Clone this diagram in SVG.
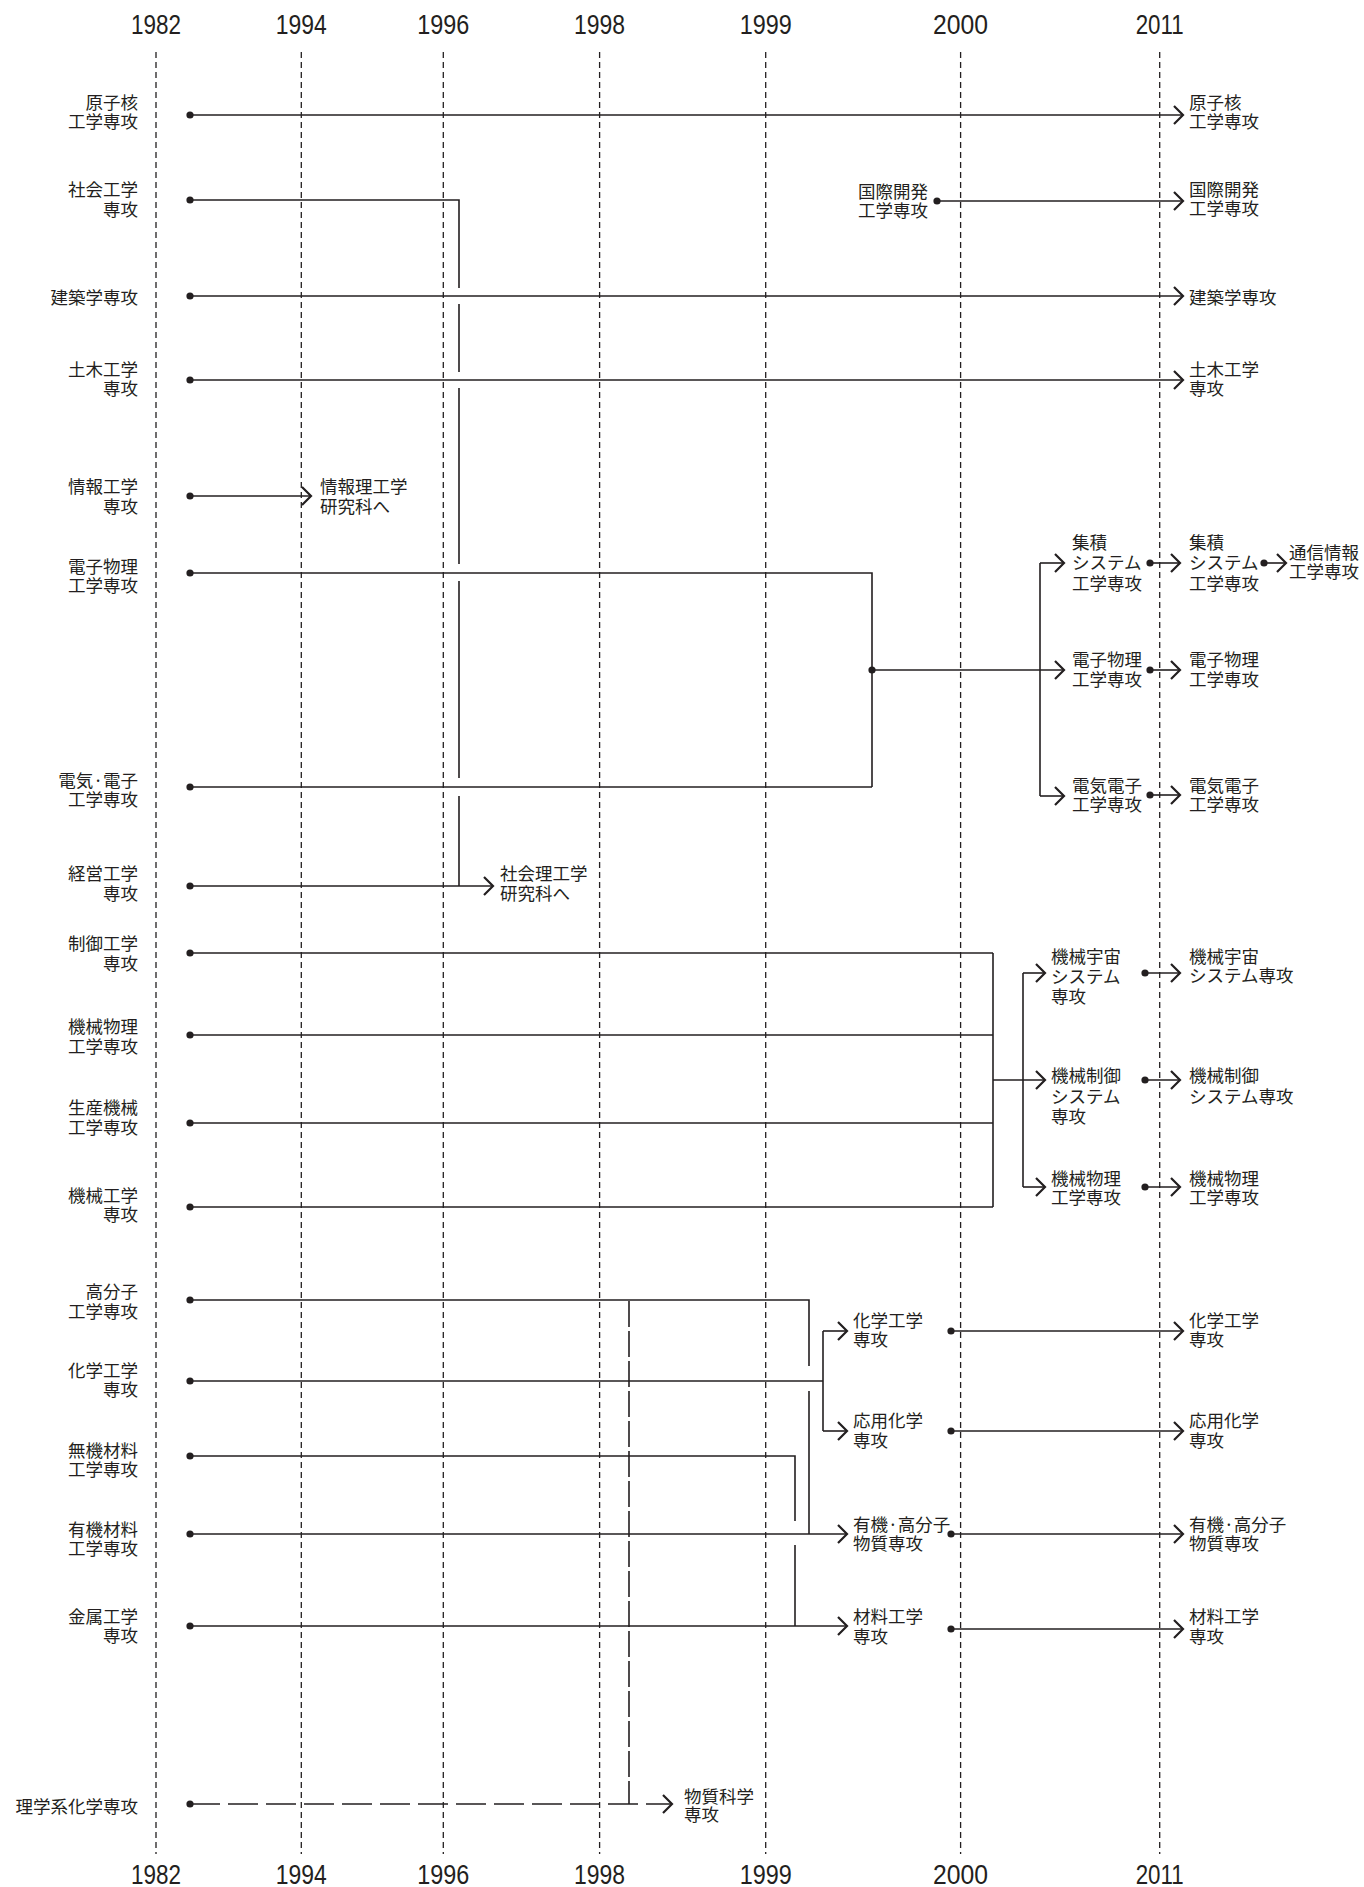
<svg xmlns="http://www.w3.org/2000/svg" width="1364" height="1887" viewBox="0 0 1364 1887">
<style>
.bg{fill:#ffffff}
.grid{stroke:#231f20;stroke-width:1.3;stroke-dasharray:6,4;fill:none}
.yr{font-family:"Liberation Sans",Arial,sans-serif;font-size:28px;fill:#231f20;text-anchor:middle}
.lb{font-family:"Noto Sans CJK JP","Noto Sans",sans-serif;font-size:17.5px;fill:#231f20}
.end{text-anchor:end}
.ln{stroke:#231f20;stroke-width:1.6;fill:none}
.dash{stroke-dasharray:30,8}
.ldash{stroke-dasharray:26,4}
.dot{fill:#231f20}
</style>
<defs>
<marker id="arr" viewBox="0 0 12 20" refX="10.5" refY="10" markerWidth="12" markerHeight="20" markerUnits="userSpaceOnUse" orient="auto">
<path d="M1.5,1 L10.5,10 L1.5,19" fill="none" stroke="#231f20" stroke-width="2.2"/>
</marker>
<marker id="dt" viewBox="0 0 8 8" refX="4" refY="4" markerWidth="8" markerHeight="8" markerUnits="userSpaceOnUse" orient="auto">
<circle cx="4" cy="4" r="3.6" fill="#231f20"/>
</marker>
</defs>
<rect class="bg" x="0" y="0" width="1364" height="1887"/>

<g id="years">
<line class="grid" x1="156" y1="52" x2="156" y2="1854"/>
<line class="grid" x1="301.3" y1="52" x2="301.3" y2="1854"/>
<line class="grid" x1="443.3" y1="52" x2="443.3" y2="1854"/>
<line class="grid" x1="599.6" y1="52" x2="599.6" y2="1854"/>
<line class="grid" x1="765.7" y1="52" x2="765.7" y2="1854"/>
<line class="grid" x1="960.6" y1="52" x2="960.6" y2="1854"/>
<line class="grid" x1="1159.7" y1="52" x2="1159.7" y2="1854"/>
<text class="yr" x="156" y="33.5" textLength="50" lengthAdjust="spacingAndGlyphs">1982</text>
<text class="yr" x="301.3" y="33.5" textLength="51" lengthAdjust="spacingAndGlyphs">1994</text>
<text class="yr" x="443.3" y="33.5" textLength="52" lengthAdjust="spacingAndGlyphs">1996</text>
<text class="yr" x="599.6" y="33.5" textLength="51" lengthAdjust="spacingAndGlyphs">1998</text>
<text class="yr" x="765.7" y="33.5" textLength="52" lengthAdjust="spacingAndGlyphs">1999</text>
<text class="yr" x="960.6" y="33.5" textLength="55" lengthAdjust="spacingAndGlyphs">2000</text>
<text class="yr" x="1159.7" y="33.5" textLength="48" lengthAdjust="spacingAndGlyphs">2011</text>
<text class="yr" x="156" y="1884" textLength="50" lengthAdjust="spacingAndGlyphs">1982</text>
<text class="yr" x="301.3" y="1884" textLength="51" lengthAdjust="spacingAndGlyphs">1994</text>
<text class="yr" x="443.3" y="1884" textLength="52" lengthAdjust="spacingAndGlyphs">1996</text>
<text class="yr" x="599.6" y="1884" textLength="51" lengthAdjust="spacingAndGlyphs">1998</text>
<text class="yr" x="765.7" y="1884" textLength="52" lengthAdjust="spacingAndGlyphs">1999</text>
<text class="yr" x="960.6" y="1884" textLength="55" lengthAdjust="spacingAndGlyphs">2000</text>
<text class="yr" x="1159.7" y="1884" textLength="48" lengthAdjust="spacingAndGlyphs">2011</text>
</g>

<g id="connectors">
<path class="ln" d="M190,115 H1183" marker-start="url(#dt)" marker-end="url(#arr)"/>
<path class="ln" d="M190,200 H459 V288" marker-start="url(#dt)"/>
<path class="ln" d="M459,304 V372 M459,388 V564 M459,581 V778 M459,796 V886"/>
<path class="ln" d="M190,886 H493" marker-start="url(#dt)" marker-end="url(#arr)"/>
<path class="ln" d="M937,201 H1183" marker-start="url(#dt)" marker-end="url(#arr)"/>
<path class="ln" d="M190,296 H1183" marker-start="url(#dt)" marker-end="url(#arr)"/>
<path class="ln" d="M190,380 H1183" marker-start="url(#dt)" marker-end="url(#arr)"/>
<path class="ln" d="M190,496 H311" marker-start="url(#dt)" marker-end="url(#arr)"/>

<path class="ln" d="M190,573 H872 V787" marker-start="url(#dt)"/>
<path class="ln" d="M190,787 H872" marker-start="url(#dt)"/>
<circle class="dot" cx="872" cy="670" r="3.6"/>
<path class="ln" d="M872,670 H1064" marker-end="url(#arr)"/>
<path class="ln" d="M1040,563 V796"/>
<path class="ln" d="M1040,563 H1064" marker-end="url(#arr)"/>
<path class="ln" d="M1040,796 H1064" marker-end="url(#arr)"/>
<path class="ln" d="M1150,563 H1180" marker-start="url(#dt)" marker-end="url(#arr)"/>
<path class="ln" d="M1150,670 H1180" marker-start="url(#dt)" marker-end="url(#arr)"/>
<path class="ln" d="M1150,795 H1180" marker-start="url(#dt)" marker-end="url(#arr)"/>
<path class="ln" d="M1264,563 H1286" marker-start="url(#dt)" marker-end="url(#arr)"/>

<path class="ln" d="M190,953 H993" marker-start="url(#dt)"/>
<path class="ln" d="M190,1035 H993" marker-start="url(#dt)"/>
<path class="ln" d="M190,1123 H993" marker-start="url(#dt)"/>
<path class="ln" d="M190,1207 H993" marker-start="url(#dt)"/>
<path class="ln" d="M993,953 V1207"/>
<path class="ln" d="M993,1080 H1045" marker-end="url(#arr)"/>
<path class="ln" d="M1023,973 V1187"/>
<path class="ln" d="M1023,973 H1045" marker-end="url(#arr)"/>
<path class="ln" d="M1023,1187 H1045" marker-end="url(#arr)"/>
<path class="ln" d="M1145,973 H1180" marker-start="url(#dt)" marker-end="url(#arr)"/>
<path class="ln" d="M1145,1080 H1180" marker-start="url(#dt)" marker-end="url(#arr)"/>
<path class="ln" d="M1145,1187 H1180" marker-start="url(#dt)" marker-end="url(#arr)"/>

<path class="ln" d="M190,1300 H809 V1366" marker-start="url(#dt)"/>
<path class="ln" d="M809,1391 V1534"/>
<path class="ln" d="M190,1381 H823" marker-start="url(#dt)"/>
<path class="ln" d="M823,1331 V1431"/>
<path class="ln" d="M823,1331 H847" marker-end="url(#arr)"/>
<path class="ln" d="M823,1431 H847" marker-end="url(#arr)"/>
<path class="ln" d="M190,1456 H795 V1521" marker-start="url(#dt)"/>
<path class="ln" d="M795,1545 V1626"/>
<path class="ln" d="M190,1534 H847" marker-start="url(#dt)" marker-end="url(#arr)"/>
<path class="ln" d="M190,1626 H847" marker-start="url(#dt)" marker-end="url(#arr)"/>
<path class="ln" d="M951,1331 H1183" marker-start="url(#dt)" marker-end="url(#arr)"/>
<path class="ln" d="M951,1431 H1183" marker-start="url(#dt)" marker-end="url(#arr)"/>
<path class="ln" d="M951,1534 H1183" marker-start="url(#dt)" marker-end="url(#arr)"/>
<path class="ln" d="M951,1629 H1183" marker-start="url(#dt)" marker-end="url(#arr)"/>

<path class="ln ldash" d="M629,1301 V1804"/>
<path class="ln dash" d="M190,1804 H672" marker-start="url(#dt)" marker-end="url(#arr)"/>
</g>

<g id="n-genshikaku"><text class="lb end"><tspan x="138" y="109">原子核</tspan><tspan x="138" y="128">工学専攻</tspan></text></g>
<g id="n-shakai"><text class="lb end"><tspan x="138" y="195.5">社会工学</tspan><tspan x="138" y="215.5">専攻</tspan></text></g>
<g id="n-kenchiku"><text class="lb end" x="138" y="304">建築学専攻</text></g>
<g id="n-doboku"><text class="lb end"><tspan x="138" y="376">土木工学</tspan><tspan x="138" y="395">専攻</tspan></text></g>
<g id="n-joho"><text class="lb end"><tspan x="138" y="493">情報工学</tspan><tspan x="138" y="512.5">専攻</tspan></text></g>
<g id="n-denshibutsuri"><text class="lb end"><tspan x="138" y="573">電子物理</tspan><tspan x="138" y="592">工学専攻</tspan></text></g>
<g id="n-denkidenshi"><text class="lb end"><tspan x="138" y="786.5">電気·電子</tspan><tspan x="138" y="805.5">工学専攻</tspan></text></g>
<g id="n-keiei"><text class="lb end"><tspan x="138" y="880">経営工学</tspan><tspan x="138" y="900">専攻</tspan></text></g>
<g id="n-seigyo"><text class="lb end"><tspan x="138" y="950">制御工学</tspan><tspan x="138" y="970">専攻</tspan></text></g>
<g id="n-kikaibutsuri"><text class="lb end"><tspan x="138" y="1033">機械物理</tspan><tspan x="138" y="1053">工学専攻</tspan></text></g>
<g id="n-seisan"><text class="lb end"><tspan x="138" y="1114">生産機械</tspan><tspan x="138" y="1134">工学専攻</tspan></text></g>
<g id="n-kikai"><text class="lb end"><tspan x="138" y="1201.5">機械工学</tspan><tspan x="138" y="1221">専攻</tspan></text></g>
<g id="n-kobunshi"><text class="lb end"><tspan x="138" y="1298">高分子</tspan><tspan x="138" y="1317.5">工学専攻</tspan></text></g>
<g id="n-kagaku"><text class="lb end"><tspan x="138" y="1376.5">化学工学</tspan><tspan x="138" y="1396">専攻</tspan></text></g>
<g id="n-muki"><text class="lb end"><tspan x="138" y="1456.5">無機材料</tspan><tspan x="138" y="1475.5">工学専攻</tspan></text></g>
<g id="n-yuki"><text class="lb end"><tspan x="138" y="1536">有機材料</tspan><tspan x="138" y="1555">工学専攻</tspan></text></g>
<g id="n-kinzoku"><text class="lb end"><tspan x="138" y="1622.5">金属工学</tspan><tspan x="138" y="1641.5">専攻</tspan></text></g>
<g id="n-rigaku"><text class="lb end" x="138" y="1812.5">理学系化学専攻</text></g>

<g id="n-kokusai2000"><text class="lb end"><tspan x="928" y="197.5">国際開発</tspan><tspan x="928" y="217">工学専攻</tspan></text></g>
<g id="n-joho-ri"><text class="lb"><tspan x="320" y="493">情報理工学</tspan><tspan x="320" y="512.5">研究科へ</tspan></text></g>
<g id="n-shakai-ri"><text class="lb"><tspan x="500" y="880">社会理工学</tspan><tspan x="500" y="900">研究科へ</tspan></text></g>

<g id="n-genshikaku-2011"><text class="lb"><tspan x="1189" y="109">原子核</tspan><tspan x="1189" y="128">工学専攻</tspan></text></g>
<g id="n-kokusai-2011"><text class="lb"><tspan x="1189" y="195.5">国際開発</tspan><tspan x="1189" y="215">工学専攻</tspan></text></g>
<g id="n-kenchiku-2011"><text class="lb" x="1189" y="304">建築学専攻</text></g>
<g id="n-doboku-2011"><text class="lb"><tspan x="1189" y="376">土木工学</tspan><tspan x="1189" y="395">専攻</tspan></text></g>

<g id="n-shuseki-2000"><text class="lb"><tspan x="1072" y="548.5">集積</tspan><tspan x="1072" y="569">システム</tspan><tspan x="1072" y="590">工学専攻</tspan></text></g>
<g id="n-denshibutsuri-2000"><text class="lb"><tspan x="1072" y="666">電子物理</tspan><tspan x="1072" y="686">工学専攻</tspan></text></g>
<g id="n-denkidenshi-2000"><text class="lb"><tspan x="1072" y="791.5">電気電子</tspan><tspan x="1072" y="810.5">工学専攻</tspan></text></g>
<g id="n-shuseki-2011"><text class="lb"><tspan x="1189" y="548.5">集積</tspan><tspan x="1189" y="569">システム</tspan><tspan x="1189" y="590">工学専攻</tspan></text></g>
<g id="n-denshibutsuri-2011"><text class="lb"><tspan x="1189" y="666">電子物理</tspan><tspan x="1189" y="686">工学専攻</tspan></text></g>
<g id="n-denkidenshi-2011"><text class="lb"><tspan x="1189" y="791.5">電気電子</tspan><tspan x="1189" y="810.5">工学専攻</tspan></text></g>
<g id="n-tsushin"><text class="lb"><tspan x="1289" y="559">通信情報</tspan><tspan x="1289" y="578">工学専攻</tspan></text></g>

<g id="n-uchu-2000"><text class="lb"><tspan x="1051" y="962.5">機械宇宙</tspan><tspan x="1051" y="983">システム</tspan><tspan x="1051" y="1003">専攻</tspan></text></g>
<g id="n-seigyo-2000"><text class="lb"><tspan x="1051" y="1081.5">機械制御</tspan><tspan x="1051" y="1102.5">システム</tspan><tspan x="1051" y="1122.5">専攻</tspan></text></g>
<g id="n-kikaibutsuri-2000"><text class="lb"><tspan x="1051" y="1185">機械物理</tspan><tspan x="1051" y="1204">工学専攻</tspan></text></g>
<g id="n-uchu-2011"><text class="lb"><tspan x="1189" y="962.5">機械宇宙</tspan><tspan x="1189" y="981.5">システム専攻</tspan></text></g>
<g id="n-seigyo-2011"><text class="lb"><tspan x="1189" y="1081.5">機械制御</tspan><tspan x="1189" y="1102.5">システム専攻</tspan></text></g>
<g id="n-kikaibutsuri-2011"><text class="lb"><tspan x="1189" y="1185">機械物理</tspan><tspan x="1189" y="1204">工学専攻</tspan></text></g>

<g id="n-kagaku-1999"><text class="lb"><tspan x="853" y="1326.5">化学工学</tspan><tspan x="853" y="1346">専攻</tspan></text></g>
<g id="n-oyo-1999"><text class="lb"><tspan x="853" y="1426.5">応用化学</tspan><tspan x="853" y="1446.5">専攻</tspan></text></g>
<g id="n-yukikobunshi-1999"><text class="lb"><tspan x="853" y="1530.5">有機·高分子</tspan><tspan x="853" y="1550">物質専攻</tspan></text></g>
<g id="n-zairyo-1999"><text class="lb"><tspan x="853" y="1623">材料工学</tspan><tspan x="853" y="1642.5">専攻</tspan></text></g>
<g id="n-kagaku-2011"><text class="lb"><tspan x="1189" y="1326.5">化学工学</tspan><tspan x="1189" y="1346">専攻</tspan></text></g>
<g id="n-oyo-2011"><text class="lb"><tspan x="1189" y="1426.5">応用化学</tspan><tspan x="1189" y="1446.5">専攻</tspan></text></g>
<g id="n-yukikobunshi-2011"><text class="lb"><tspan x="1189" y="1530.5">有機·高分子</tspan><tspan x="1189" y="1550">物質専攻</tspan></text></g>
<g id="n-zairyo-2011"><text class="lb"><tspan x="1189" y="1623">材料工学</tspan><tspan x="1189" y="1642.5">専攻</tspan></text></g>
<g id="n-busshitsu"><text class="lb"><tspan x="684" y="1802.5">物質科学</tspan><tspan x="684" y="1821">専攻</tspan></text></g>
</svg>
